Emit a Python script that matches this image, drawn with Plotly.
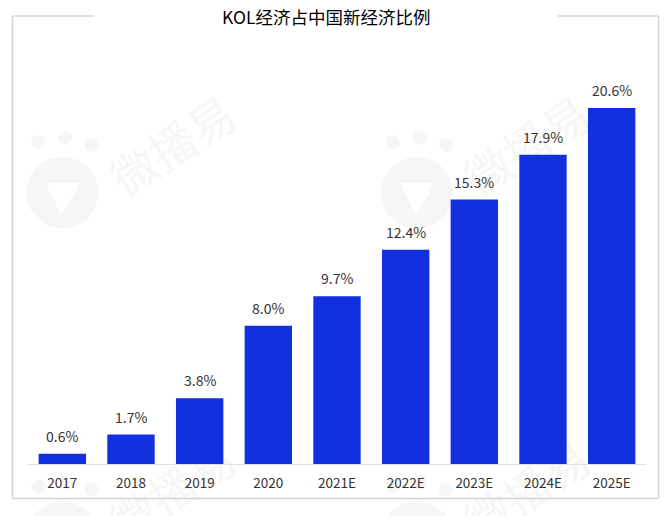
import plotly.graph_objects as go

years = ["2017", "2018", "2019", "2020", "2021E", "2022E", "2023E", "2024E", "2025E"]
share = [0.6, 1.7, 3.8, 8.0, 9.7, 12.4, 15.3, 17.9, 20.6]
labels = ["0.6%", "1.7%", "3.8%", "8.0%", "9.7%", "12.4%", "15.3%", "17.9%", "20.6%"]

W = 670
H = 516
M_L = 27.6
M_R = 23.6
M_T = 61
M_B = 51.5
CJK = "Noto Sans CJK SC"
GRAY = "#d4d4d4"
MARK = "#f6f6f6"


# picture pixels to paper coordinates (paper is the plot area)
def px(x):
    return (x - M_L) / (W - M_L - M_R)


def py(y):
    return (H - M_B - y) / (H - M_T - M_B)


def pline(x0, y0, x1, y1):
    return dict(type="line", xref="paper", yref="paper", x0=px(x0), y0=py(y0), x1=px(x1), y1=py(y1),
                line=dict(color=GRAY, width=1.5), layer="below")


def circle(cx, cy, r, **kw):
    return dict(type="circle", xref="paper", yref="paper", x0=px(cx - r), x1=px(cx + r),
                y0=py(cy - r), y1=py(cy + r), layer="below", **kw)


# watermark, one logo + text block
def watermark(dx, dy):
    out = []
    out.append(circle(62 + dx, 193 + dy, 36, fillcolor=MARK, line=dict(width=0)))
    for cx, cy in [(38, 142), (65, 138), (91, 145)]:
        out.append(circle(cx + dx, cy + dy, 7, fillcolor=MARK, line=dict(width=0)))
    tri = "M %f,%f L %f,%f L %f,%f Z" % (px(45 + dx), py(183 + dy), px(80 + dx), py(183 + dy), px(61 + dx), py(215 + dy))
    out.append(dict(type="path", xref="paper", yref="paper", path=tri, fillcolor="white",
                    line=dict(width=0), layer="below"))
    out.append(dict(type="rect", xref="paper", yref="paper", x0=px(105 + dx), x1=px(245 + dx),
                    y0=py(190 + dy), y1=py(110 + dy), layer="below", line=dict(width=0),
                    fillcolor="rgba(0,0,0,0)",
                    label=dict(text="微播易", textangle=-33, textposition="middle center",
                               font=dict(family=CJK, size=46, color=MARK))))
    return out


shapes = []
for d in [(0, 0), (355, 0), (0, 345), (355, 345)]:
    shapes += watermark(*d)

# frame with a gap for the title
shapes += [
    pline(12, 16, 93, 16),
    pline(558, 16, 659, 16),
    pline(12, 16, 12, 499),
    pline(659, 16, 659, 499),
    pline(12, 499, 659, 499),
]

bars = go.Bar(x=years, y=share, cliponaxis=False, width=0.69,
              marker=dict(color="#1230e0", line=dict(width=0)))

layout = go.Layout(
    width=W, height=H, autosize=False,
    margin=dict(l=M_L, r=M_R, t=M_T, b=M_B, pad=0),
    plot_bgcolor="rgba(0,0,0,0)", paper_bgcolor="white",
    showlegend=False, shapes=shapes,
    xaxis=dict(type="category", range=[-0.5, len(years) - 0.5], showgrid=False, showline=True,
               linecolor="#e0e0e0", linewidth=1, ticks="", ticklabelstandoff=7,
               tickfont=dict(family=CJK, size=13.5, color="#333333")),
    yaxis=dict(range=[0, 23.32], visible=False),
    annotations=[dict(text="KOL经济占中国新经济比例", xref="paper", yref="paper", x=px(326), y=py(16),
                      yanchor="middle", showarrow=False,
                      font=dict(family=CJK, size=17.5, color="#000000"))],
)

fig = go.Figure(data=[bars], layout=layout)

# value labels sit further off the bars than textposition="outside" allows
for i, (val, lab) in enumerate(zip(share, labels)):
    fig.add_annotation(x=i, y=val, text=lab, showarrow=False, yanchor="bottom", yshift=6,
                       font=dict(family=CJK, size=14, color="#333333"))

# drop the default page margin so the figure fills the window
fig.write_html("out.html", config=dict(displayModeBar=False),
               post_script="document.body.style.margin = '0';")
